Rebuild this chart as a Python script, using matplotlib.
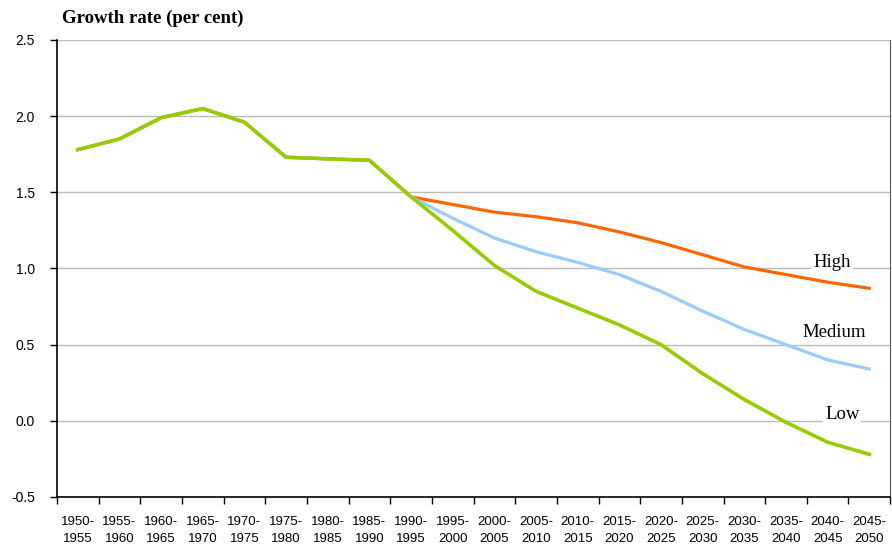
import numpy as np
import matplotlib.pyplot as plt
from matplotlib.ticker import FixedLocator, NullFormatter

# five-year periods
periods = ['1950-\n1955', '1955-\n1960', '1960-\n1965', '1965-\n1970', '1970-\n1975',
           '1975-\n1980', '1980-\n1985', '1985-\n1990', '1990-\n1995', '1995-\n2000',
           '2000-\n2005', '2005-\n2010', '2010-\n2015', '2015-\n2020', '2020-\n2025',
           '2025-\n2030', '2030-\n2035', '2035-\n2040', '2040-\n2045', '2045-\n2050']

history = [1.78, 1.85, 1.99, 2.05, 1.96, 1.73, 1.72, 1.71, 1.47]
high = history + [1.42, 1.37, 1.34, 1.30, 1.24, 1.17, 1.09, 1.01, 0.96, 0.91, 0.87]
medium = history + [1.33, 1.20, 1.11, 1.04, 0.96, 0.85, 0.72, 0.60, 0.50, 0.40, 0.34]
low = history + [1.25, 1.02, 0.85, 0.74, 0.63, 0.50, 0.31, 0.14, -0.01, -0.14, -0.22]

fig = plt.figure(figsize=(8.92, 5.53), dpi=100)
ax = fig.add_axes([0.0639, 0.1013, 0.934, 0.8264])

x = np.arange(len(periods))
ax.plot(x, high, color='#FF6600', lw=2.3, zorder=3)
ax.plot(x, medium, color='#99CCFF', lw=2.3, zorder=3)
ax.plot(x, low, color='#99CC00', lw=2.6, zorder=4)

ax.set_xlim(-0.5, len(periods) - 0.5)
ax.set_ylim(-0.5, 2.5)
ax.set_yticks(np.arange(-0.5, 2.51, 0.5))
ax.set_yticklabels([f'{v:.1f}' for v in np.arange(-0.5, 2.51, 0.5)])
ax.yaxis.grid(True, color='#bbbbbb', lw=1.0, zorder=0)
ax.set_axisbelow(True)

ax.set_xticks(x)
ax.set_xticklabels(periods, linespacing=1.5)
ax.tick_params(axis='x', which='major', length=0, pad=14, labelsize=9.5)
ax.xaxis.set_minor_locator(FixedLocator(np.arange(-0.5, len(periods), 1.0)))
ax.xaxis.set_minor_formatter(NullFormatter())
ax.tick_params(axis='x', which='minor', length=5, width=1, direction='out')
ax.tick_params(axis='y', length=5, width=1, labelsize=10, pad=11)
for lab in ax.get_xticklabels() + ax.get_yticklabels():
    lab.set_family('Liberation Sans')

ax.spines['top'].set_visible(False)
ax.spines['right'].set_color('#555555')
ax.spines['left'].set_linewidth(1.2)
ax.spines['bottom'].set_linewidth(1.2)

lbl = dict(family='Liberation Serif', fontsize=13.5, ha='center', va='center', zorder=2,
           bbox=dict(facecolor='white', edgecolor='none', pad=1.5))
ax.text(18.11, 1.04, 'High', **lbl)
ax.text(18.16, 0.58, 'Medium', **lbl)
ax.text(18.35, 0.04, 'Low', **lbl)

fig.text(62 / 892, 1 - 18 / 553, 'Growth rate (per cent)', family='Liberation Serif',
         fontweight='bold', fontsize=13.5, ha='left', va='center')

fig.savefig('out.png', dpi=100)
